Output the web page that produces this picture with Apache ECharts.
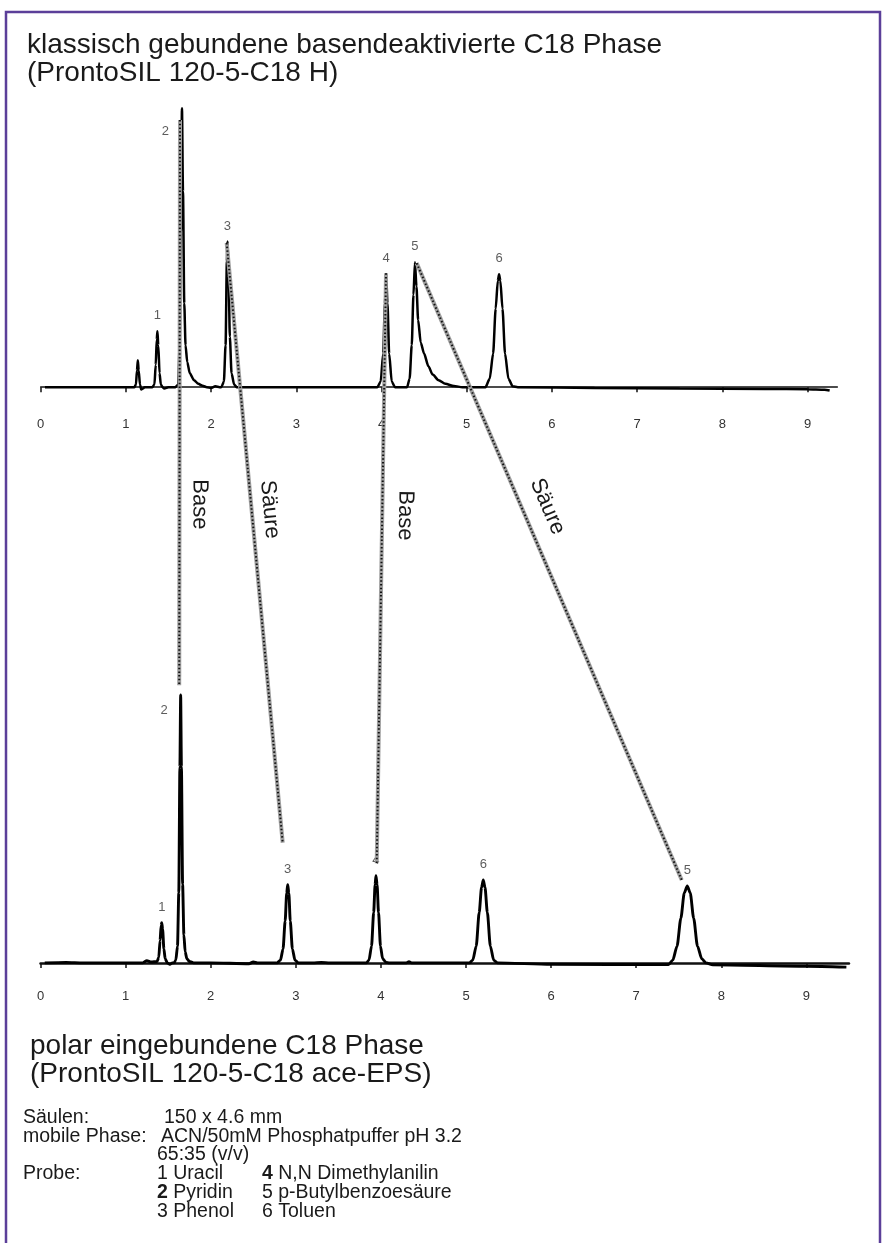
<!DOCTYPE html>
<html><head><meta charset="utf-8">
<script src="https://cdn.jsdelivr.net/npm/echarts@6/dist/echarts.min.js"></script>
<style>html,body{margin:0;padding:0;background:#fff}#c{width:887px;height:1243px}</style>
</head><body><div id="c"></div>
<script>
// ---- data ----
const tickValues = [0,1,2,3,4,5,6,7,8,9];
// top run: ProntoSIL 120-5-C18 H  [retention time (min), signal]
const traceTop = [
 [0.05,0],[1.08,0],[1.10,0],[1.118,1],[1.13,6],[1.14,9.6],[1.15,6],[1.165,1],[1.18,-0.8],[1.2,-0.5],[1.22,0],
 [1.31,0],[1.335,1],[1.35,8],[1.362,17],[1.37,20],[1.38,15],[1.395,5],[1.41,1],[1.43,0],[1.45,-0.5],[1.5,0],
 [1.58,0],[1.615,1],[1.63,15],[1.645,55],[1.658,99.6],[1.67,70],[1.685,30],[1.7,15],[1.72,9],[1.75,5],[1.8,2.5],[1.85,1.2],[1.9,0.5],[1.95,0],
 [2.0,-0.3],[2.05,0.3],[2.1,0],
 [2.12,0],[2.15,2],[2.17,15],[2.185,45],[2.192,52],[2.205,40],[2.22,18],[2.24,5],[2.27,1],[2.3,0],
 [3.95,0],[3.99,2],[4.02,12],[4.04,30],[4.055,40.3],[4.07,30],[4.09,12],[4.12,2],[4.16,0],
 [4.30,0],[4.33,3],[4.355,15],[4.375,33],[4.393,44.6],[4.41,36],[4.43,24],[4.46,16],[4.5,12],[4.55,7.5],[4.6,4.5],[4.67,2.5],[4.75,1.2],[4.85,0.4],[4.95,0],
 [5.22,0],[5.27,3],[5.31,12],[5.34,28],[5.365,38],[5.38,40.3],[5.395,38],[5.42,28],[5.45,12],[5.49,3],[5.54,0.3],[5.6,0],
 [6.5,-0.3],[7.5,-0.5],[8.5,-0.6],[9.0,-0.7],[9.2,-0.9],[9.26,-1.2]
];
// bottom run: ProntoSIL 120-5-C18 ace-EPS
const traceBottom = [
 [0.05,0],[0.3,0.2],[0.5,0],[1.2,0],[1.25,0.8],[1.3,0.3],[1.37,0.5],
 [1.39,2],[1.405,8],[1.418,13.5],[1.425,14.4],[1.435,12],[1.45,5],[1.465,1.5],[1.49,0],[1.52,-0.5],[1.55,0],
 [1.57,0],[1.59,1],[1.61,6],[1.625,25],[1.638,70],[1.647,95.7],[1.656,70],[1.67,28],[1.685,10],[1.7,4],[1.72,1.5],[1.75,0.5],[1.8,0],
 [2.0,0],[2.45,-0.3],[2.5,0.3],[2.55,0],
 [2.78,0],[2.82,1],[2.85,5],[2.875,15],[2.893,25],[2.905,27.9],[2.918,25],[2.935,15],[2.96,5],[2.99,1],[3.03,0],
 [3.2,0],[3.3,0.2],[3.4,0],
 [3.83,0],[3.86,1],[3.89,6],[3.915,18],[3.932,28],[3.942,31.1],[3.955,28],[3.972,18],[3.995,6],[4.02,1.5],[4.06,0.2],[4.1,0],
 [4.3,0],[4.33,0.4],[4.36,0],
 [5.04,0],[5.08,1],[5.12,6],[5.155,18],[5.183,27],[5.203,29.6],[5.223,27],[5.251,18],[5.286,6],[5.325,1],[5.37,0],
 [6.0,-0.5],[7.38,-0.6],[7.43,1],[7.48,6],[7.525,16],[7.565,25],[7.6,27.5],[7.635,25],[7.675,16],[7.72,6],[7.77,1.5],[7.82,0],[7.9,-0.7],
 [9.0,-1.2],[9.47,-1.5]
];
const peakNamesTop = ['1','2','3','4','5','6'];
const peakTimesTop = [1.37,1.658,2.192,4.055,4.393,5.38];
const peakHeightsTop = [20,99.6,52,40.3,44.6,40.3];
const peakNamesBottom = ['1','2','3','4','6','5'];
const peakTimesBottom = [1.425,1.647,2.905,3.942,5.203,7.6];
const peakHeightsBottom = [14.4,95.7,27.9,31.1,29.6,27.5];
// connectors: same compound in both runs (top run point -> bottom run point)
const connNames = ['Base','Säure','Base','Säure'];
const connFrom = [[1.635,95.4],[2.183,51.5],[4.053,40.7],[4.413,44.3]];
const connTo = [[1.63,99.2],[2.846,42.9],[3.951,35.6],[7.535,29.6]];
const titleTop = ['klassisch gebundene basendeaktivierte C18 Phase','(ProntoSIL 120-5-C18 H)'];
const titleBottom = ['polar eingebundene C18 Phase','(ProntoSIL 120-5-C18 ace-EPS)'];

// ---- chart ----
const FONT = '"Liberation Sans", Arial, Helvetica, sans-serif';
const chart = echarts.init(document.getElementById('c'), null, {renderer:'canvas'});

function xAx(gi, max, w, m){
  return {gridIndex:gi, type:'value', min:0, max:max,
    axisLine:{show:true, lineStyle:{color:'#111', width:w}},
    axisTick:{show:true, customValues:tickValues, length:5, inside:false, lineStyle:{color:'#111', width:1.5}},
    axisLabel:{show:true, customValues:tickValues, color:'#333', fontSize:13, fontFamily:FONT, margin:m},
    splitLine:{show:false}};
}
function labelData(names, times, heights){
  return names.map((n,i)=>{
    const d = {name:n, value:[times[i], heights[i]]};
    if (n==='2') d.label = {position:'left', distance:5, offset:[-8, 0]};
    return d;
  });
}
const topLbl = labelData(peakNamesTop, peakTimesTop, peakHeightsTop);
topLbl[1].label.offset = [-8, 23];
const botLbl = labelData(peakNamesBottom, peakTimesBottom, peakHeightsBottom);
botLbl[1].label.offset = [-8, 15];

const option = {
  animation:false,
  backgroundColor:'#fff',
  grid:[
    {left:40.7, top:101.6, width:9.35*85.2, height:302.4},
    {left:40.5, top:688.5, width:9.5*85.1, height:284.48}
  ],
  xAxis:[xAx(0, 9.35, 1.5, 14), xAx(1, 9.5, 2.5, 17)],
  yAxis:[
    {gridIndex:0, type:'value', min:-6, max:102, show:false},
    {gridIndex:1, type:'value', min:-3.6, max:98, show:false}
  ],
  series:[
    {type:'line', xAxisIndex:0, yAxisIndex:0, data:traceTop, showSymbol:false, smooth:0.25, smoothMonotone:'x',
      lineStyle:{color:'#000', width:2.5}, z:3},
    {type:'line', xAxisIndex:1, yAxisIndex:1, data:traceBottom, showSymbol:false, smooth:0.25, smoothMonotone:'x',
      lineStyle:{color:'#000', width:2.9}, z:3},
    {type:'scatter', xAxisIndex:0, yAxisIndex:0, data:topLbl, symbolSize:0, silent:true,
      label:{show:true, formatter:'{b}', position:'top', distance:9, color:'#333', fontSize:13, fontFamily:FONT}},
    {type:'scatter', xAxisIndex:1, yAxisIndex:1, data:botLbl, symbolSize:0, silent:true,
      label:{show:true, formatter:'{b}', position:'top', distance:9, color:'#333', fontSize:13, fontFamily:FONT}}
  ]
};
chart.setOption(option);

// ---- annotations ----
const graphics = [];
graphics.push({type:'rect', shape:{x:6, y:12, width:874, height:1262},
  style:{fill:'none', stroke:'#5b3f99', lineWidth:2.5}, z:20});
function txt(t, x, y, size){
  return {type:'text', x:x, y:y, z:20,
    style:{text:t, fontSize:size, fontFamily:FONT, fill:'#1a1a1a', align:'left', verticalAlign:'middle'}};
}
graphics.push(txt(titleTop[0], 27, 45, 28));
graphics.push(txt(titleTop[1], 27, 73, 28));
graphics.push(txt(titleBottom[0], 30, 1046, 28));
graphics.push(txt(titleBottom[1], 30, 1074, 28));
const info = [
  ['Säulen:', 23, 1118], ['150 x 4.6 mm', 164, 1118],
  ['mobile Phase:', 23, 1137], ['ACN/50mM Phosphatpuffer pH 3.2', 161, 1137],
  ['65:35 (v/v)', 157, 1155],
  ['Probe:', 23, 1174], ['1 Uracil', 157, 1174], ['{b|4} N,N Dimethylanilin', 262, 1174],
  ['{b|2} Pyridin', 157, 1193], ['5 p-Butylbenzoesäure', 262, 1193],
  ['3 Phenol', 157, 1212], ['6 Toluen', 262, 1212]
];
info.forEach(r=>{
  const t = txt(r[0], r[1], r[2], 19.5);
  t.style.rich = {b:{fontWeight:'bold', fontSize:19.5, fontFamily:FONT, fill:'#1a1a1a'}};
  graphics.push(t);
});
const labelPlace = [[0.68,20],[0.447,18],[0.41,23],[0.41,24]];
connFrom.forEach((f,i)=>{
  const p1 = chart.convertToPixel({xAxisIndex:0, yAxisIndex:0}, f);
  const p2 = chart.convertToPixel({xAxisIndex:1, yAxisIndex:1}, connTo[i]);
  const shape = {x1:p1[0], y1:p1[1], x2:p2[0], y2:p2[1]};
  graphics.push({type:'line', shape:shape, style:{stroke:'#a0a0a0', lineWidth:4}, z:10});
  graphics.push({type:'line', shape:shape, style:{stroke:'#111', lineWidth:2, lineDash:[1.5,2.2]}, z:11});
  const dx = p2[0]-p1[0], dy = p2[1]-p1[1], L = Math.hypot(dx,dy);
  const ux = dx/L, uy = dy/L;
  const fr = labelPlace[i][0], d = labelPlace[i][1];
  const cx = p1[0] + dx*fr + uy*d, cy = p1[1] + dy*fr - ux*d;
  graphics.push({type:'text', x:cx, y:cy, rotation:-Math.atan2(dy,dx), z:12,
    style:{text:connNames[i], fontSize:22, fontFamily:FONT, fill:'#1a1a1a', align:'center', verticalAlign:'middle'}});
});
chart.setOption({graphic:graphics});
</script>
</body></html>
